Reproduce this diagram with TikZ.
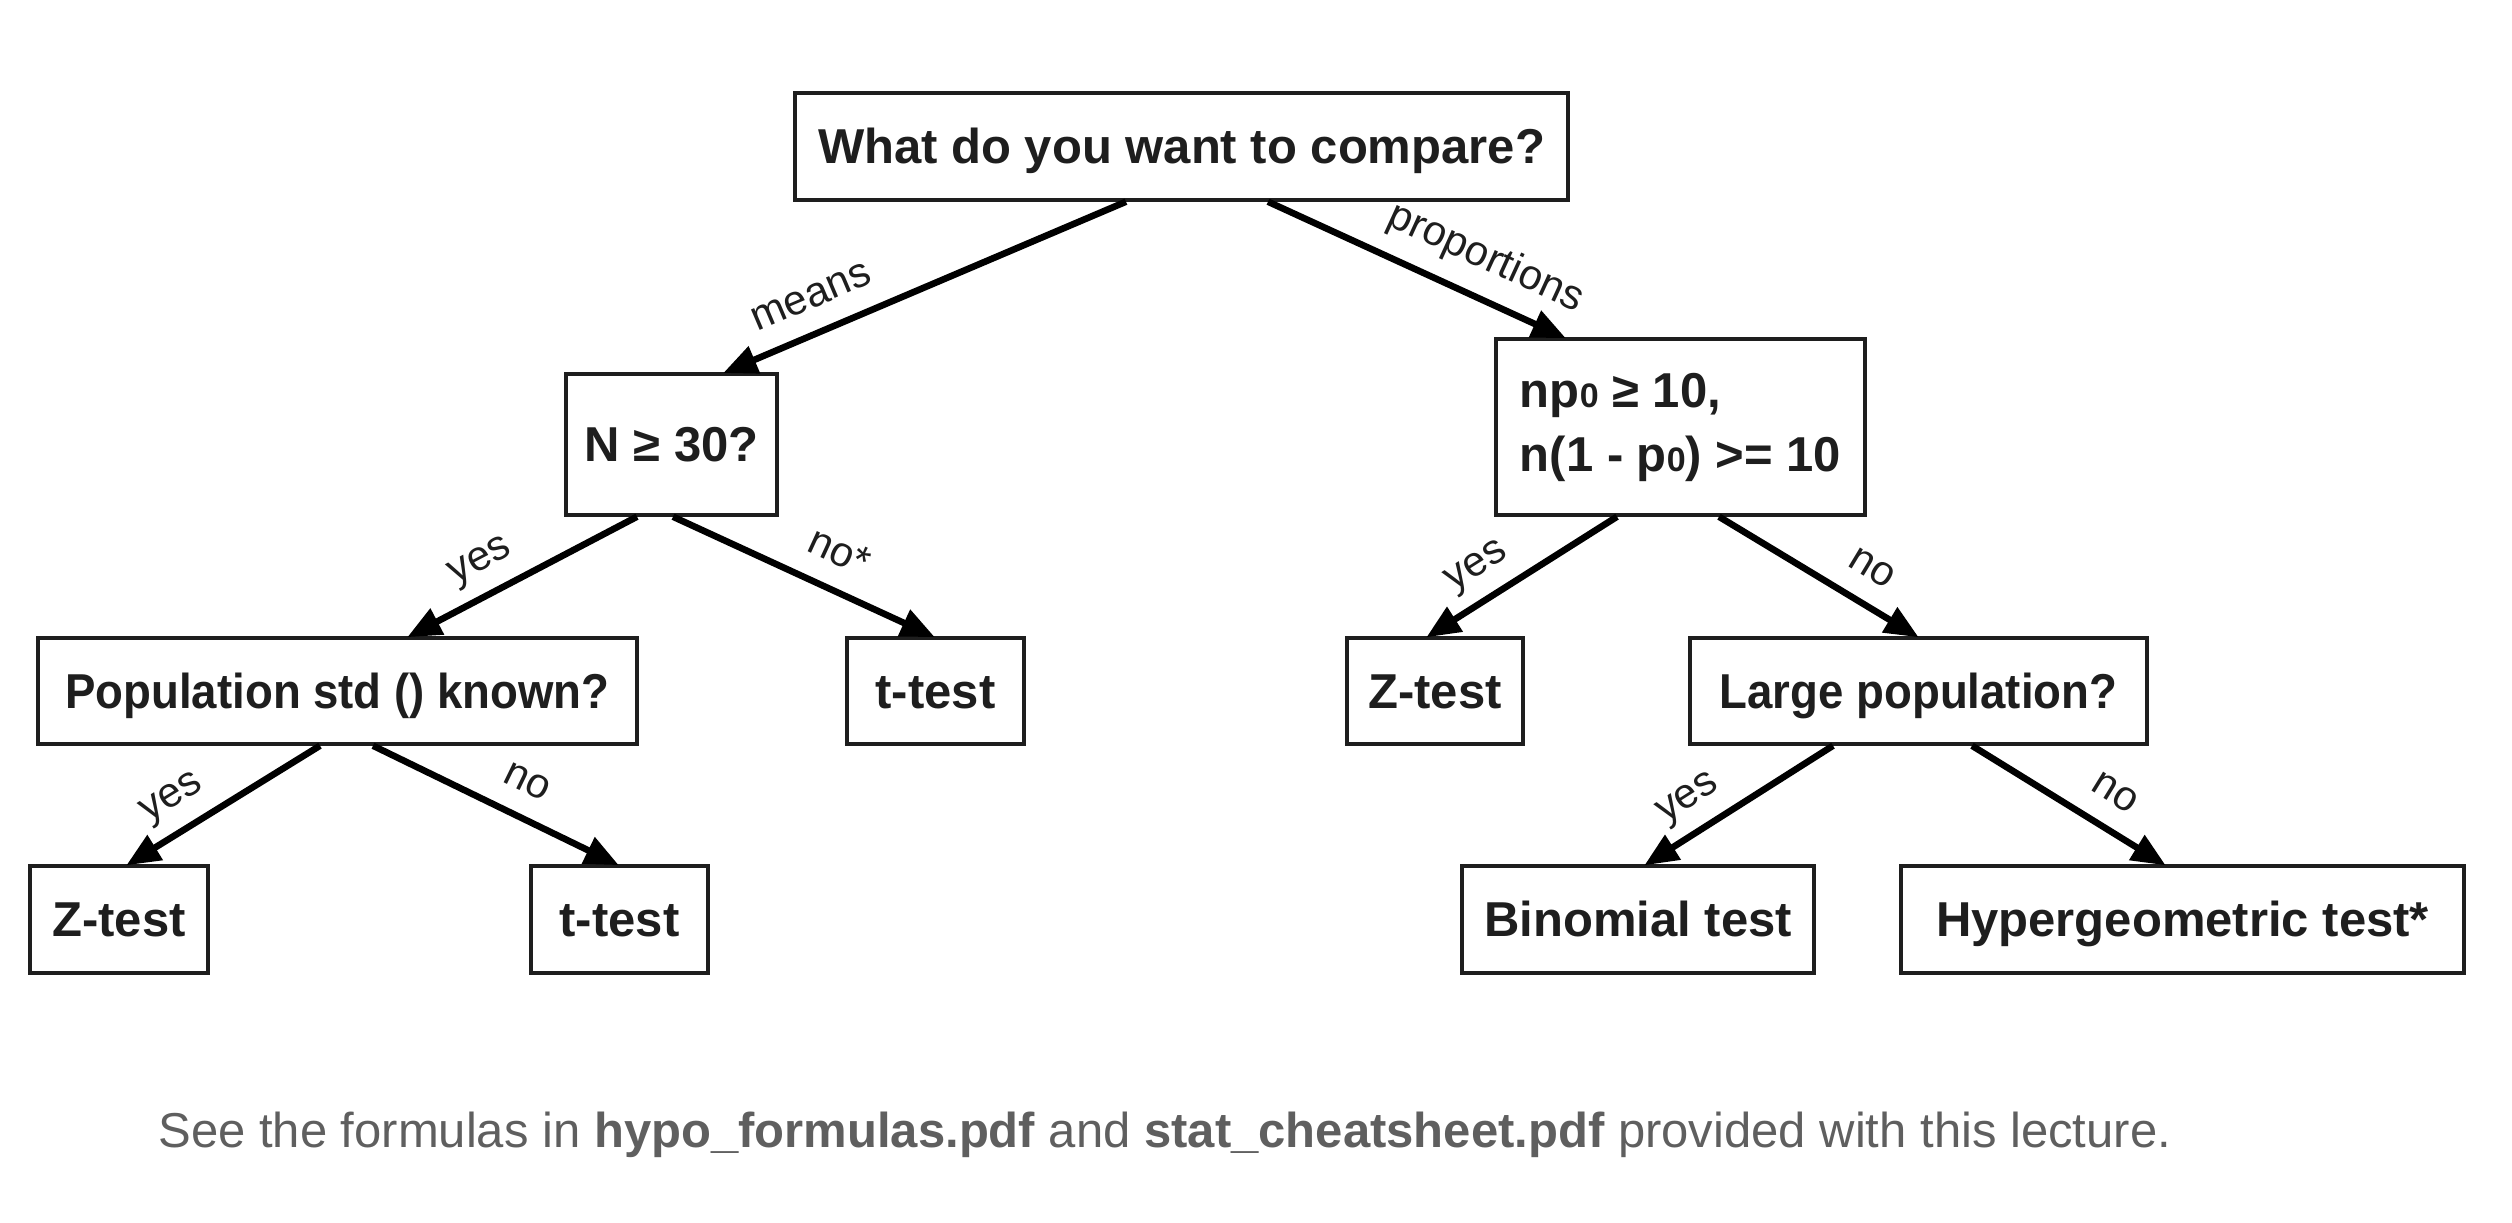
\documentclass[tikz,border=0pt]{standalone}
\usepackage{fontspec}
\setmainfont{Liberation Sans}
\usetikzlibrary{arrows.meta,calc}
\definecolor{ink}{HTML}{1E1E1E}
\definecolor{capgray}{HTML}{5F5F5F}
\newcommand{\pz}{{\fontsize{17}{17}\selectfont 0}}
\begin{document}
\begin{tikzpicture}[x=0.5pt,y=-0.5pt,
  box/.style={draw=ink, line width=1.7pt, fill=white, inner sep=0pt,
    text height=18pt, text depth=1pt,
    font=\fontsize{24.5}{30}\selectfont\bfseries, text=ink},
  conn/.style={draw=black, line width=3.3pt, -{Triangle[length=17pt,width=14pt]}, shorten >=-1pt},
  lab/.style={sloped, above=4pt, inner sep=2pt, text height=15pt, text depth=4.5pt,
    font=\fontsize{21}{25}\selectfont, text=ink}]
\useasboundingbox (0,0) rectangle (2512,1222);

% nodes
\node[box, minimum width=386.5pt, minimum height=53.5pt] (root) at (1181.5,146.5) {What do you want to compare?};
\node[box, minimum width=105.5pt, minimum height=70.5pt] (nn) at (671.5,444.5) {N ≥ 30?};
\node[box, minimum width=184.5pt, minimum height=88pt, align=left, text height=, text depth=] (np) at (1680.5,427)
  {np\pz{} ≥ 10,\\[2pt] n(1 - p\pz) >= 10};
\node[box, minimum width=299.5pt, minimum height=53pt] (pop) at (337.5,691) {\scalebox{0.93}[1]{Population std () known?}};
\node[box, minimum width=88.5pt, minimum height=53pt] (tta) at (935.5,691) {t-test};
\node[box, minimum width=89pt, minimum height=53.5pt] (za) at (119,919.5) {Z-test};
\node[box, minimum width=88.5pt, minimum height=53.5pt] (ttb) at (619.5,919.5) {t-test};
\node[box, minimum width=88pt, minimum height=53pt] (zb) at (1435,691) {Z-test};
\node[box, minimum width=228.5pt, minimum height=53pt] (large) at (1918.5,691) {\scalebox{0.93}[1]{Large population?}};
\node[box, minimum width=176pt, minimum height=53.5pt] (bin) at (1638,919.5) {Binomial test};
\node[box, minimum width=281.5pt, minimum height=53.5pt] (hyp) at (2182.5,919.5) {Hypergeometric test*};

% connectors
\draw[conn] ($(root.south)+(-55.5,0)$) -- node[lab, pos=0.75] {means} ($(nn.north)+(53.5,0)$);
\draw[conn] ($(root.south)+(86.5,0)$) -- node[lab, pos=0.68, above=2pt] {proportions} ($(np.north)+(-116.5,0)$);
\draw[conn] ($(nn.south)+(-34.5,0)$) -- node[lab, pos=0.62] {yes} ($(pop.north)+(71.5,0)$);
\draw[conn] ($(nn.south)+(1.5,0)$) -- node[lab, pos=0.58] {no*} ($(tta.north)+(-2.5,0)$);
\draw[conn] ($(pop.south)+(-17.5,0)$) -- node[lab, pos=0.68] {yes} ($(za.north)+(9,0)$);
\draw[conn] ($(pop.south)+(35.5,0)$) -- node[lab, pos=0.57] {no} ($(ttb.north)+(-2.5,0)$);
\draw[conn] ($(np.south)+(-63.5,0)$) -- node[lab, pos=0.65] {yes} ($(zb.north)+(-7,0)$);
\draw[conn] ($(np.south)+(38.5,0)$) -- node[lab, pos=0.68] {no} ($(large.north)+(-1.5,0)$);
\draw[conn] ($(large.south)+(-85.5,0)$) -- node[lab, pos=0.68] {yes} ($(bin.north)+(8,0)$);
\draw[conn] ($(large.south)+(53.5,0)$) -- node[lab, pos=0.65] {no} ($(hyp.north)+(-18.5,0)$);

% caption
\node[anchor=base west, inner sep=0pt, text=capgray, font=\fontsize{24.5}{30}\selectfont] (cap) at (158,1147)
  {See the formulas in \textbf{hypo\_formulas.pdf} and \textbf{stat\_cheatsheet.pdf} provided with this lecture.};
\end{tikzpicture}
\end{document}
